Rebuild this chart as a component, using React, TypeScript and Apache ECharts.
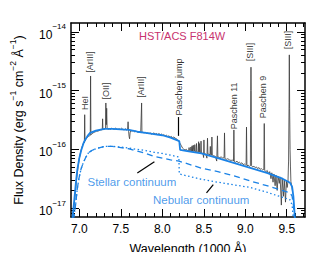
import React, { useEffect, useRef } from "react";
import * as echarts from "echarts";

const BLUE = "#1a82e6";
const FONT = "Liberation Sans, Arial, Helvetica, sans-serif";

// Observed spectrum: [wavelength (1000 Å), log10 flux]
const observed: number[][] = [
  [6.925, -17.15], [6.94, -16.92], [6.955, -16.7], [6.97, -16.48], [6.985, -16.3], [7.0, -16.16], [7.015, -16.05], [7.03, -15.97], [7.045, -15.91], [7.058, -15.87],
  [7.061, -15.89], [7.065, -15.41], [7.069, -15.86],
  [7.08, -15.82], [7.095, -15.8], [7.11, -15.78], [7.125, -15.77],
  [7.132, -15.76], [7.136, -14.75], [7.14, -15.75],
  [7.15, -15.74], [7.165, -15.72], [7.18, -15.71], [7.195, -15.7], [7.21, -15.69], [7.225, -15.69], [7.24, -15.68], [7.255, -15.67], [7.27, -15.67],
  [7.277, -15.66], [7.281, -15.48], [7.285, -15.67],
  [7.295, -15.66], [7.305, -15.66],
  [7.316, -15.64], [7.32, -15.21], [7.325, -15.58], [7.33, -15.3], [7.335, -15.64],
  [7.345, -15.66], [7.36, -15.65], [7.375, -15.66], [7.39, -15.64], [7.405, -15.65], [7.42, -15.66], [7.435, -15.64], [7.45, -15.65], [7.465, -15.66], [7.48, -15.65], [7.495, -15.66], [7.51, -15.64], [7.525, -15.66], [7.54, -15.67], [7.555, -15.65], [7.57, -15.67], [7.582, -15.66],
  [7.588, -15.53], [7.594, -15.69], [7.6, -15.78], [7.606, -15.82], [7.612, -15.72], [7.62, -15.68],
  [7.635, -15.69], [7.65, -15.68], [7.665, -15.7], [7.68, -15.69], [7.695, -15.7], [7.71, -15.71], [7.725, -15.7], [7.74, -15.71],
  [7.747, -15.71], [7.751, -15.21], [7.755, -15.72],
  [7.765, -15.71], [7.78, -15.72], [7.795, -15.71], [7.81, -15.73], [7.825, -15.72], [7.84, -15.73], [7.855, -15.72], [7.87, -15.74], [7.885, -15.73], [7.9, -15.72], [7.915, -15.74], [7.93, -15.73], [7.945, -15.75], [7.96, -15.73], [7.975, -15.75], [7.99, -15.74],
  [8.005, -15.76], [8.02, -15.75], [8.035, -15.77], [8.05, -15.76], [8.065, -15.78], [8.08, -15.77], [8.095, -15.79], [8.11, -15.78], [8.125, -15.8], [8.14, -15.79], [8.155, -15.81], [8.17, -15.82], [8.185, -15.84], [8.2, -15.86], [8.215, -15.9], [8.23, -15.94], [8.245, -15.98], [8.26, -16.0], [8.275, -16.01], [8.29, -16.0], [8.305, -16.02],
  [8.318, -16.02], [8.323, -15.97], [8.328, -16.02],
  [8.34, -16.02], [8.345, -15.96], [8.35, -16.02],
  [8.355, -16.03], [8.359, -15.94], [8.363, -16.03],
  [8.369, -16.03], [8.374, -15.93], [8.379, -16.04],
  [8.387, -16.03], [8.392, -15.92], [8.397, -16.05],
  [8.408, -16.04], [8.413, -15.9], [8.418, -16.05],
  [8.433, -16.05], [8.438, -15.87], [8.442, -16.04], [8.446, -15.9], [8.45, -16.05],
  [8.462, -16.06], [8.467, -15.86], [8.472, -16.06],
  [8.49, -16.07], [8.498, -16.14], [8.502, -15.84], [8.506, -16.07],
  [8.525, -16.08], [8.538, -16.15], [8.545, -15.81], [8.55, -16.08],
  [8.575, -16.09], [8.579, -15.95], [8.583, -16.09],
  [8.593, -16.1], [8.598, -15.79], [8.603, -16.1],
  [8.62, -16.11], [8.64, -16.12], [8.656, -16.2], [8.665, -15.77], [8.67, -16.13],
  [8.69, -16.14], [8.71, -16.13], [8.73, -16.15], [8.745, -16.14], [8.75, -15.72], [8.755, -16.16],
  [8.77, -16.17], [8.79, -16.16], [8.81, -16.18], [8.83, -16.19], [8.845, -16.18], [8.858, -16.2], [8.863, -15.67], [8.868, -16.21],
  [8.885, -16.22], [8.9, -16.2], [8.915, -16.23], [8.93, -16.22], [8.945, -16.24], [8.96, -16.23], [8.975, -16.26], [8.99, -16.25], [9.005, -16.27], [9.01, -16.26], [9.015, -15.62], [9.02, -16.28],
  [9.035, -16.27], [9.05, -16.29], [9.062, -16.28], [9.066, -15.0], [9.069, -14.6], [9.072, -15.0], [9.076, -16.28],
  [9.09, -16.3], [9.105, -16.29], [9.12, -16.31], [9.135, -16.3], [9.15, -16.33], [9.165, -16.31], [9.18, -16.34], [9.195, -16.33], [9.21, -16.35], [9.224, -16.34], [9.229, -15.56], [9.234, -16.36],
  [9.25, -16.38], [9.265, -16.36], [9.28, -16.42], [9.295, -16.38], [9.31, -16.5], [9.32, -16.4], [9.335, -16.56], [9.345, -16.42], [9.36, -16.62], [9.37, -16.44], [9.385, -16.7], [9.395, -16.46], [9.41, -16.58], [9.42, -16.47], [9.435, -16.95], [9.445, -16.5], [9.46, -16.8], [9.47, -16.52], [9.485, -16.9], [9.495, -16.54], [9.505, -16.65], [9.515, -16.55],
  [9.522, -16.2], [9.528, -15.2], [9.531, -14.39], [9.535, -15.3], [9.54, -16.0], [9.545, -16.3], [9.55, -16.55], [9.56, -16.62], [9.57, -16.72],
];

// Total model
const totalModel: number[][] = [
  [6.915, -17.2], [6.94, -16.86], [6.96, -16.55], [6.976, -16.35], [7.0, -16.15], [7.024, -16.01], [7.05, -15.9], [7.07, -15.84], [7.1, -15.77], [7.13, -15.72],
  [7.2, -15.68], [7.3, -15.65], [7.4, -15.65], [7.5, -15.66], [7.6, -15.67], [7.7, -15.7], [7.8, -15.72], [7.9, -15.74], [8.0, -15.76], [8.1, -15.8], [8.205, -15.86],
  [8.215, -16.01], [8.3, -16.03], [8.47, -16.07], [8.67, -16.15], [8.86, -16.23], [9.0, -16.29], [9.26, -16.4], [9.45, -16.5], [9.54, -16.57], [9.565, -16.64], [9.58, -16.8], [9.59, -17.0], [9.6, -17.2],
];

// Stellar continuum (dashed)
const stellarModel: number[][] = [
  [6.93, -17.2], [6.955, -16.95], [6.975, -16.68], [6.995, -16.5], [7.02, -16.34], [7.05, -16.22], [7.08, -16.13], [7.11, -16.06], [7.15, -16.02], [7.2, -15.99],
  [7.3, -15.95], [7.4, -15.95], [7.5, -15.97], [7.6, -15.99], [7.7, -16.03], [7.8, -16.07], [7.9, -16.12], [8.0, -16.15], [8.1, -16.18], [8.2, -16.2],
  [8.47, -16.32], [8.67, -16.38], [8.86, -16.45], [9.06, -16.54], [9.26, -16.62], [9.54, -16.74], [9.565, -16.8], [9.58, -16.95], [9.595, -17.2],
];

// Nebular continuum (dotted)
const nebularModel: number[][] = [
  [6.93, -17.2], [6.955, -16.95], [6.975, -16.68], [6.995, -16.5], [7.02, -16.34], [7.05, -16.22], [7.08, -16.13], [7.11, -16.06], [7.15, -16.02], [7.2, -15.99],
  [7.3, -15.95], [7.4, -15.95], [7.5, -15.96], [7.6, -15.98], [7.7, -16.0], [7.8, -16.02], [7.9, -16.05], [8.0, -16.07], [8.1, -16.1], [8.2, -16.13],
  [8.205, -16.42], [8.47, -16.51], [8.67, -16.56], [9.06, -16.65], [9.26, -16.73], [9.54, -16.86], [9.565, -16.95], [9.58, -17.2],
];

const lineNames = ["HeI", "[ArIII]", "[OII]", "[ArIII]", "Paschen jump", "Paschen 11", "[SIII]", "Paschen 9", "[SIII]"];
const lineLabelPos: number[][] = [
  [7.071, -15.21], [7.13, -14.51], [7.32, -15.005], [7.746, -14.937], [8.197, -14.937], [8.86, -15.26], [9.062, -14.34], [9.216, -15.107], [9.512, -14.136],
];

const continuumNames = ["Stellar continuum", "Nebular continuum"];
const continuumLabelPos: number[][] = [[7.634, -16.555], [8.469, -16.862]];

// arrows: [from, to]
const arrows: number[][][] = [
  [[8.197, -15.45], [8.197, -15.77]],
  [[7.699, -16.402], [7.905, -16.21]],
  [[8.533, -16.743], [8.615, -16.6]],
];

const xMajor = [7.0, 7.5, 8.0, 8.5, 9.0, 9.5];
const xMinorStep = 0.1;
const yDecades = [-17, -16, -15, -14];
const X_MIN = 6.9, X_MAX = 9.72;
const Y_MIN = -17.153, Y_MAX = -13.847;

export default function App() {
  const ref = useRef<HTMLDivElement>(null);
  useEffect(() => {
    if (!ref.current) return;
    const chart = echarts.init(ref.current, null, { renderer: "svg" });

    const xMinor: number[] = [];
    for (let i = 0; i <= 30; i++) {
      const v = Math.round((6.9 + i * xMinorStep) * 10) / 10;
      if (v > X_MIN && v < X_MAX && !xMajor.some((m) => Math.abs(m - v) < 1e-6)) xMinor.push(v);
    }
    const yMinor: number[] = [];
    for (let d = -18; d <= -14; d++) {
      for (let k = 2; k <= 9; k++) {
        const v = d + Math.log10(k);
        if (v > Y_MIN && v < Y_MAX) yMinor.push(v);
      }
    }

    const axisLine = { show: true, lineStyle: { color: "#000", width: 1.5 } };
    const mkX = (pos: string, ticks: number[], len: number, labels: boolean, line: boolean) => ({
      type: "value", position: pos, min: X_MIN, max: X_MAX,
      axisLine: line ? axisLine : { show: false },
      axisTick: { show: true, inside: true, length: len, customValues: ticks, lineStyle: { color: "#000", width: 1 } },
      axisLabel: labels
        ? { show: true, customValues: ticks, formatter: (v: number) => v.toFixed(1), color: "#000", fontSize: 12, fontFamily: FONT, margin: 6 }
        : { show: false },
      splitLine: { show: false },
    });
    const mkY = (pos: string, ticks: number[], len: number, labels: boolean, line: boolean, name?: string) => ({
      type: "value", position: pos, min: Y_MIN, max: Y_MAX,
      axisLine: line ? axisLine : { show: false },
      axisTick: { show: true, inside: true, length: len, customValues: ticks, lineStyle: { color: "#000", width: 1 } },
      axisLabel: labels
        ? {
            show: true, customValues: ticks, margin: 5,
            formatter: (v: number) => "{b|10}{s|−" + Math.round(-v) + "}",
            rich: {
              b: { fontSize: 12, fontFamily: FONT, color: "#000", verticalAlign: "bottom", lineHeight: 18 },
              s: { fontSize: 8, fontFamily: FONT, color: "#000", verticalAlign: "top", lineHeight: 10 },
            },
          }
        : { show: false },
      splitLine: { show: false },
      name: name,
      nameLocation: "middle",
      nameGap: 46,
      nameRotate: 90,
      nameTextStyle: {
        rich: {
          n: { fontSize: 12.5, fontFamily: FONT, color: "#000", verticalAlign: "bottom", lineHeight: 17 },
          s: { fontSize: 8.5, fontFamily: FONT, color: "#000", verticalAlign: "top", lineHeight: 10 },
        },
      },
    });

    const arrowData = arrows.map((a) => [{ coord: a[0] }, { coord: a[1] }]);

    chart.setOption({
      animation: false,
      grid: { left: 68, right: 20, top: 23, bottom: 43 },
      title: {
        text: "HST/ACS F814W", left: 139, top: 30, padding: 0,
        textStyle: { fontSize: 11, fontWeight: "normal", color: "#c8326e", fontFamily: FONT },
      },
      xAxis: [
        {
          ...mkX("bottom", xMajor, 8, true, true),
          name: "Wavelength (1000 Å)", nameLocation: "middle", nameGap: 25,
          nameTextStyle: { fontSize: 12.5, color: "#000", fontFamily: FONT },
        },
        mkX("bottom", xMinor, 4, false, false),
        mkX("top", xMajor, 8, false, true),
        mkX("top", xMinor, 4, false, false),
      ],
      yAxis: [
        mkY("left", yDecades, 8, true, true, "{n|Flux Density (erg s}{s|−1}{n| cm}{s|−2}{n| Å}{s|−1}{n|)}"),
        mkY("left", yMinor, 4, false, false),
        mkY("right", yDecades, 8, false, true),
        mkY("right", yMinor, 4, false, false),
      ],
      series: [
        {
          type: "line", data: observed, showSymbol: false, symbol: "none",
          lineStyle: { color: "#3a3a3a", width: 0.8 }, z: 2, silent: true,
        },
        {
          type: "line", data: totalModel, showSymbol: false, symbol: "none",
          lineStyle: { color: BLUE, width: 1.8 }, z: 3, silent: true,
        },
        {
          type: "line", data: stellarModel, showSymbol: false, symbol: "none",
          lineStyle: { color: BLUE, width: 1.3, type: [6, 4] }, z: 3, silent: true,
        },
        {
          type: "line", data: nebularModel, showSymbol: false, symbol: "none",
          lineStyle: { color: BLUE, width: 1.3, type: [1.5, 2.5] }, z: 3, silent: true,
          markLine: {
            silent: true, symbol: ["none", "arrow"], symbolSize: [0, 8], animation: false,
            lineStyle: { color: "#000", width: 1.2, type: "solid" },
            label: { show: false },
            data: arrowData,
          },
        },
        {
          type: "scatter", symbolSize: 0, silent: true, z: 5,
          data: lineLabelPos.map((p, i) => ({ value: p, name: lineNames[i] })),
          label: {
            show: true, position: "inside", rotate: 90, formatter: (p: any) => p.name,
            fontSize: 9, fontFamily: FONT, color: "#000",
          },
        },
        {
          type: "scatter", symbolSize: 0, silent: true, z: 5,
          data: continuumLabelPos.map((p, i) => ({ value: p, name: continuumNames[i] })),
          label: {
            show: true, position: "inside", formatter: (p: any) => p.name,
            fontSize: 11.5, fontFamily: FONT, color: BLUE,
          },
        },
      ],
    });
    return () => chart.dispose();
  }, []);
  return <div ref={ref} style={{ width: 325, height: 260, margin: -8 }} />;
}
